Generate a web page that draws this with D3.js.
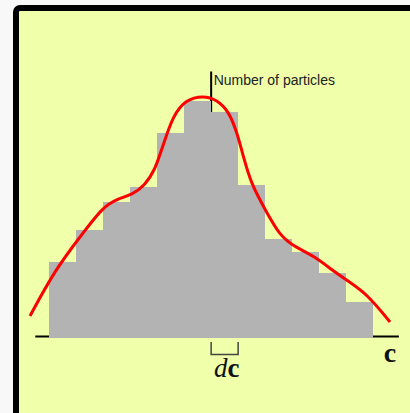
<!DOCTYPE html>
<html>
<head>
<meta charset="utf-8">
<script src="https://cdn.jsdelivr.net/npm/d3@7"></script>
<style>
  html, body { margin: 0; padding: 0; background: #f8f8f8; }
  svg { display: block; }
</style>
</head>
<body>
<svg id="chart" width="410" height="413"></svg>
<script>
// Histogram of particle counts per bin of width dc
const bins = [0, 1, 2, 3, 4, 5, 6, 7, 8, 9, 10, 11];
const counts = [76, 108, 136, 151, 205, 237, 226, 153, 99, 86, 65, 36];

// Smooth distribution curve (c, number of particles), B-spline control values
const curveC = [-0.715, 0.211, 1.138, 1.991, 2.547, 3.066, 3.548, 3.918, 4.215, 4.585, 5.067,
                5.697, 6.216, 6.661, 6.958, 7.18, 7.48, 8.033, 8.552, 9.108, 9.812, 10.48,
                11.07, 11.78, 12.63];
const curveN = [21.6, 67.6, 100.6, 131, 139, 142.6, 152.6, 167.6, 192, 222, 238,
                242, 238, 226, 205, 182.6, 153.6, 126.6, 101.6, 90.6, 81.6, 67.6,
                56.6, 43.6, 15.6];

// Horizontal axis span and the bin marked with dc
const axisSpan = [-0.52, 12.96];
const markedBin = 6;
const yAxisTop = 266;

const svg = d3.select("#chart");

const x = d3.scaleLinear().domain([0, 12]).range([49.3, 373]);
const y = d3.scaleLinear().domain([0, 250]).range([337.6, 87.6]);

// Frame
svg.append("rect")
  .attr("x", 16).attr("y", 8)
  .attr("width", 420).attr("height", 430)
  .attr("rx", 4)
  .attr("fill", "#efffaa")
  .attr("stroke", "#000")
  .attr("stroke-width", 6);

// Horizontal axis
svg.append("line")
  .attr("x1", x(axisSpan[0])).attr("x2", x(axisSpan[1]))
  .attr("y1", y(0) - 1.2).attr("y2", y(0) - 1.2)
  .attr("stroke", "#000").attr("stroke-width", 2);

// Vertical axis
svg.append("line")
  .attr("x1", x(6)).attr("x2", x(6))
  .attr("y1", y(0)).attr("y2", y(yAxisTop))
  .attr("stroke", "#000").attr("stroke-width", 2);

svg.append("text")
  .attr("x", x(6) + 2.5).attr("y", y(yAxisTop) + 13)
  .attr("font-family", "Liberation Sans, Arial, sans-serif")
  .attr("font-size", 14)
  .attr("fill", "#222")
  .text("Number of particles");

// Bars
svg.append("g").selectAll("rect")
  .data(bins)
  .join("rect")
  .attr("x", d => x(d))
  .attr("width", d => x(d + 1) - x(d))
  .attr("y", (d, i) => y(counts[i]))
  .attr("height", (d, i) => y(0) - y(counts[i]))
  .attr("fill", "#b3b3b3")
  .attr("shape-rendering", "crispEdges");

// Distribution curve
const line = d3.line()
  .x(d => x(d[0]))
  .y(d => y(d[1]))
  .curve(d3.curveBasis);

svg.append("path")
  .datum(curveC.map((c, i) => [c, curveN[i]]))
  .attr("d", line)
  .attr("fill", "none")
  .attr("stroke", "#ff0000")
  .attr("stroke-width", 3);

// Bin width bracket
const bTop = y(0) + 4.3, bBot = y(0) + 17;
svg.append("path")
  .attr("d", `M${x(markedBin)},${bTop}V${bBot}H${x(markedBin + 1)}V${bTop}`)
  .attr("fill", "none")
  .attr("stroke", "#444")
  .attr("stroke-width", 1.5);

const dc = svg.append("text")
  .attr("x", (x(markedBin) + x(markedBin + 1)) / 2 + 2)
  .attr("y", 377)
  .attr("text-anchor", "middle")
  .attr("font-family", "Liberation Serif, Times New Roman, serif")
  .attr("font-size", 27)
  .attr("fill", "#111");
dc.append("tspan").attr("font-style", "italic").text("d");
dc.append("tspan").attr("font-weight", "bold").text("c");

// Axis label
svg.append("text")
  .attr("x", 390).attr("y", 361.5)
  .attr("text-anchor", "middle")
  .attr("font-family", "Liberation Serif, Times New Roman, serif")
  .attr("font-weight", "bold")
  .attr("font-size", 28)
  .attr("fill", "#111")
  .text("c");
</script>
</body>
</html>
